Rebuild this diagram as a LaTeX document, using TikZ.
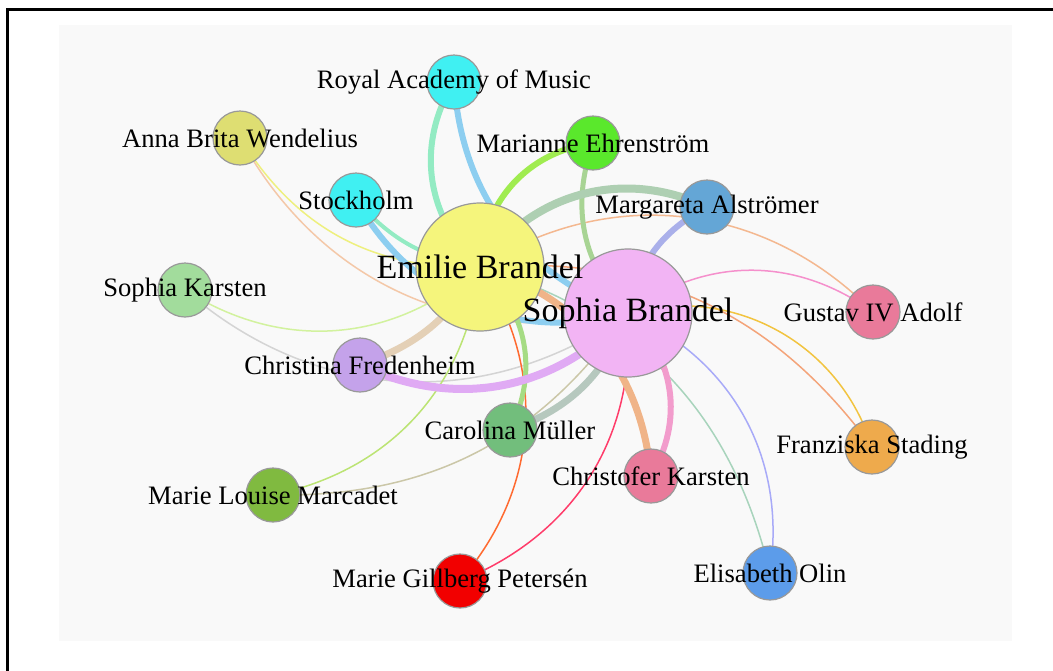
\documentclass[tikz,border=0pt]{standalone}
\usepackage{fontspec}
\setmainfont{Liberation Serif}
\usepackage{tikz}

% node fills
\definecolor{cEB}{HTML}{F5F57C}
\definecolor{cSB}{HTML}{F2B4F4}
\definecolor{cCyan}{HTML}{40F0F2}
\definecolor{cME}{HTML}{5AE82C}
\definecolor{cMA}{HTML}{64A6D6}
\definecolor{cAW}{HTML}{DEDE72}
\definecolor{cSK}{HTML}{A2DC9C}
\definecolor{cCF}{HTML}{C4A2EA}
\definecolor{cCM}{HTML}{72BE7C}
\definecolor{cML}{HTML}{80BA40}
\definecolor{cMG}{HTML}{F20000}
\definecolor{cPink}{HTML}{E97A9A}
\definecolor{cFS}{HTML}{EEAA4C}
\definecolor{cEO}{HTML}{5C9CEA}
% link colours
\definecolor{lMint}{HTML}{93EBC3}
\definecolor{lBlue}{HTML}{8DCEF0}
\definecolor{lLime}{HTML}{A0EC50}
\definecolor{lSage}{HTML}{A8D494}
\definecolor{lGrayGreen}{HTML}{AECFB2}
\definecolor{lLav}{HTML}{AAB0EA}
\definecolor{lPeach}{HTML}{F4B890}
\definecolor{lPinkThin}{HTML}{F590CC}
\definecolor{lGold}{HTML}{F2C440}
\definecolor{lOrange}{HTML}{F4A47A}
\definecolor{lOrangeWide}{HTML}{F0B488}
\definecolor{lPinkWide}{HTML}{F29CCC}
\definecolor{lLavBlue}{HTML}{A8AAF8}
\definecolor{lSea}{HTML}{A8D4BC}
\definecolor{lCrimson}{HTML}{FF3C6A}
\definecolor{lRedOrange}{HTML}{FF6A30}
\definecolor{lGreen}{HTML}{A6DC84}
\definecolor{lSlate}{HTML}{B6C8BE}
\definecolor{lKhaki}{HTML}{CBC7A8}
\definecolor{lYellowGreen}{HTML}{BCE474}
\definecolor{lViolet}{HTML}{E0AAF4}
\definecolor{lTan}{HTML}{E4D0B6}
\definecolor{lPaleGreen}{HTML}{D2F29E}
\definecolor{lGray}{HTML}{D4D4D4}
\definecolor{lYellow}{HTML}{EEF07E}
\definecolor{lPeachThin}{HTML}{F4C8A8}

\tikzstyle{member}=[circle, draw=black!40, line width=0.6pt, minimum size=27pt, inner sep=0pt]
\tikzstyle{hub}=[member, minimum size=64pt]
\tikzstyle{lbl}=[inner sep=0pt, font=\fontsize{13.3}{15}\selectfont]
\tikzstyle{biglbl}=[inner sep=0pt, font=\fontsize{17}{20}\selectfont]
\tikzstyle{tie}=[line width=0.75pt]
\tikzstyle{band}=[line width=3pt]
\tikzstyle{wideband}=[line width=4pt]

\pgfdeclarelayer{bg}
\pgfdeclarelayer{links}
\pgfsetlayers{bg,links,main}

\begin{document}
\begin{tikzpicture}[x=0.5pt,y=-0.5pt]
\useasboundingbox (0,0) rectangle (1053,670);

% people and places
\node (eb) [hub,fill=cEB] at (480,267) {};
\node (sb) [hub,fill=cSB] at (628,313) {};
\node (ra) [member,fill=cCyan] at (454,82) {};
\node (st) [member,fill=cCyan] at (356,200) {};
\node (me) [member,fill=cME] at (593,143) {};
\node (ma) [member,fill=cMA] at (707,207) {};
\node (aw) [member,fill=cAW] at (240,138) {};
\node (sk) [member,fill=cSK] at (185,290) {};
\node (cf) [member,fill=cCF] at (360,365) {};
\node (cm) [member,fill=cCM] at (510,430) {};
\node (ml) [member,fill=cML] at (273,495) {};
\node (mg) [member,fill=cMG] at (460,581) {};
\node (ck) [member,fill=cPink] at (651,476) {};
\node (ga) [member,fill=cPink] at (873,312) {};
\node (fs) [member,fill=cFS] at (872,447) {};
\node (eo) [member,fill=cEO] at (770,573) {};

% names on top
\node (ebl) [biglbl] at (eb) {Emilie Brandel};
\node (sbl) [biglbl] at (sb) {Sophia Brandel};
\node (ral) [lbl] at (ra) {Royal Academy of Music};
\node (stl) [lbl] at (st) {Stockholm};
\node (mel) [lbl] at (me) {Marianne Ehrenström};
\node (mal) [lbl] at (ma) {Margareta Alströmer};
\node (awl) [lbl] at (aw) {Anna Brita Wendelius};
\node (skl) [lbl] at (sk) {Sophia Karsten};
\node (cfl) [lbl] at (cf) {Christina Fredenheim};
\node (cml) [lbl] at (cm) {Carolina Müller};
\node (mll) [lbl] at (ml) {Marie Louise Marcadet};
\node (mgl) [lbl] at (mg) {Marie Gillberg Petersén};
\node (ckl) [lbl] at (ck) {Christofer Karsten};
\node (gal) [lbl] at (ga) {Gustav IV Adolf};
\node (fsl) [lbl] at (fs) {Franziska Stading};
\node (eol) [lbl] at (eo) {Elisabeth Olin};

\begin{pgfonlayer}{links}
% thin ties
\draw[tie,lPeachThin] (aw.center) to[bend right=37] (sb.center);
\draw[tie,lYellow] (aw.center) to[bend right=30] (eb.center);
\draw[tie,lGray] (sk.center) to[bend right=38] (sb.center);
\draw[tie,lPaleGreen] (sk.center) to[bend right=37] (eb.center);
\draw[tie,lYellowGreen] (ml.center) to[bend right=36] (eb.center);
\draw[tie,lKhaki] (ml.center) to[bend right=28] (sb.center);
\draw[tie,lRedOrange] (eb.center) to[bend left=37] (mg.center);
\draw[tie,lCrimson] (sb.center) to[bend left=36] (mg.center);
\draw[tie,lSea] (eb.center) to[bend left=30] (eo.center);
\draw[tie,lLavBlue] (sb.center) to[bend left=37] (eo.center);
\draw[tie,lOrange] (eb.center) to[bend left=29] (fs.center);
\draw[tie,lGold] (sb.center) to[bend left=44] (fs.center);
\draw[tie,lPeach] (ga.center) to[bend right=39] (eb.center);
\draw[tie,lPinkThin] (sb.center) to[bend left=36] (ga.center);
% wide bands
\draw[band,lMint] (ra.center) to[bend right=40] (eb.center);
\draw[band,lBlue] (ra.center) to[bend right=33] (sb.center);
\draw[line width=2pt,lMint] (st.center) to[bend right=20] (eb.center);
\draw[band,lBlue] (st.center) to[bend right=38] (sb.center);
\draw[band,lLime] (me.center) to[bend right=40] (eb.center);
\draw[line width=2.5pt,lSage] (me.center) to[bend right=31] (sb.center);
\draw[wideband,lGrayGreen] (ma.center) to[bend right=40] (eb.center);
\draw[band,lLav] (ma.center) to[bend right=25] (sb.center);
\draw[line width=3.5pt,lOrangeWide] (eb.center) to[bend left=34] (ck.center);
\draw[band,lPinkWide] (sb.center) to[bend left=39] (ck.center);
\draw[line width=2.5pt,lGreen] (eb.center) to[bend left=37] (cm.center);
\draw[line width=3.5pt,lSlate] (cm.center) to[bend right=25] (sb.center);
\draw[wideband,lViolet] (cf.center) to[bend right=36] (sb.center);
\draw[line width=3.5pt,lTan] (cf.center) to[bend right=20] (eb.center);
\end{pgfonlayer}

\begin{pgfonlayer}{bg}
\begin{scope}
\clip (0,0) rectangle (1053,670);
\fill[white] (0,0) rectangle (1053,670);
\fill[black!2.5] (59,25) rectangle (1012,641);
\draw[line width=1.5pt] (7.5,9) rectangle (1070,690);
\end{scope}
\end{pgfonlayer}
\end{tikzpicture}
\end{document}
